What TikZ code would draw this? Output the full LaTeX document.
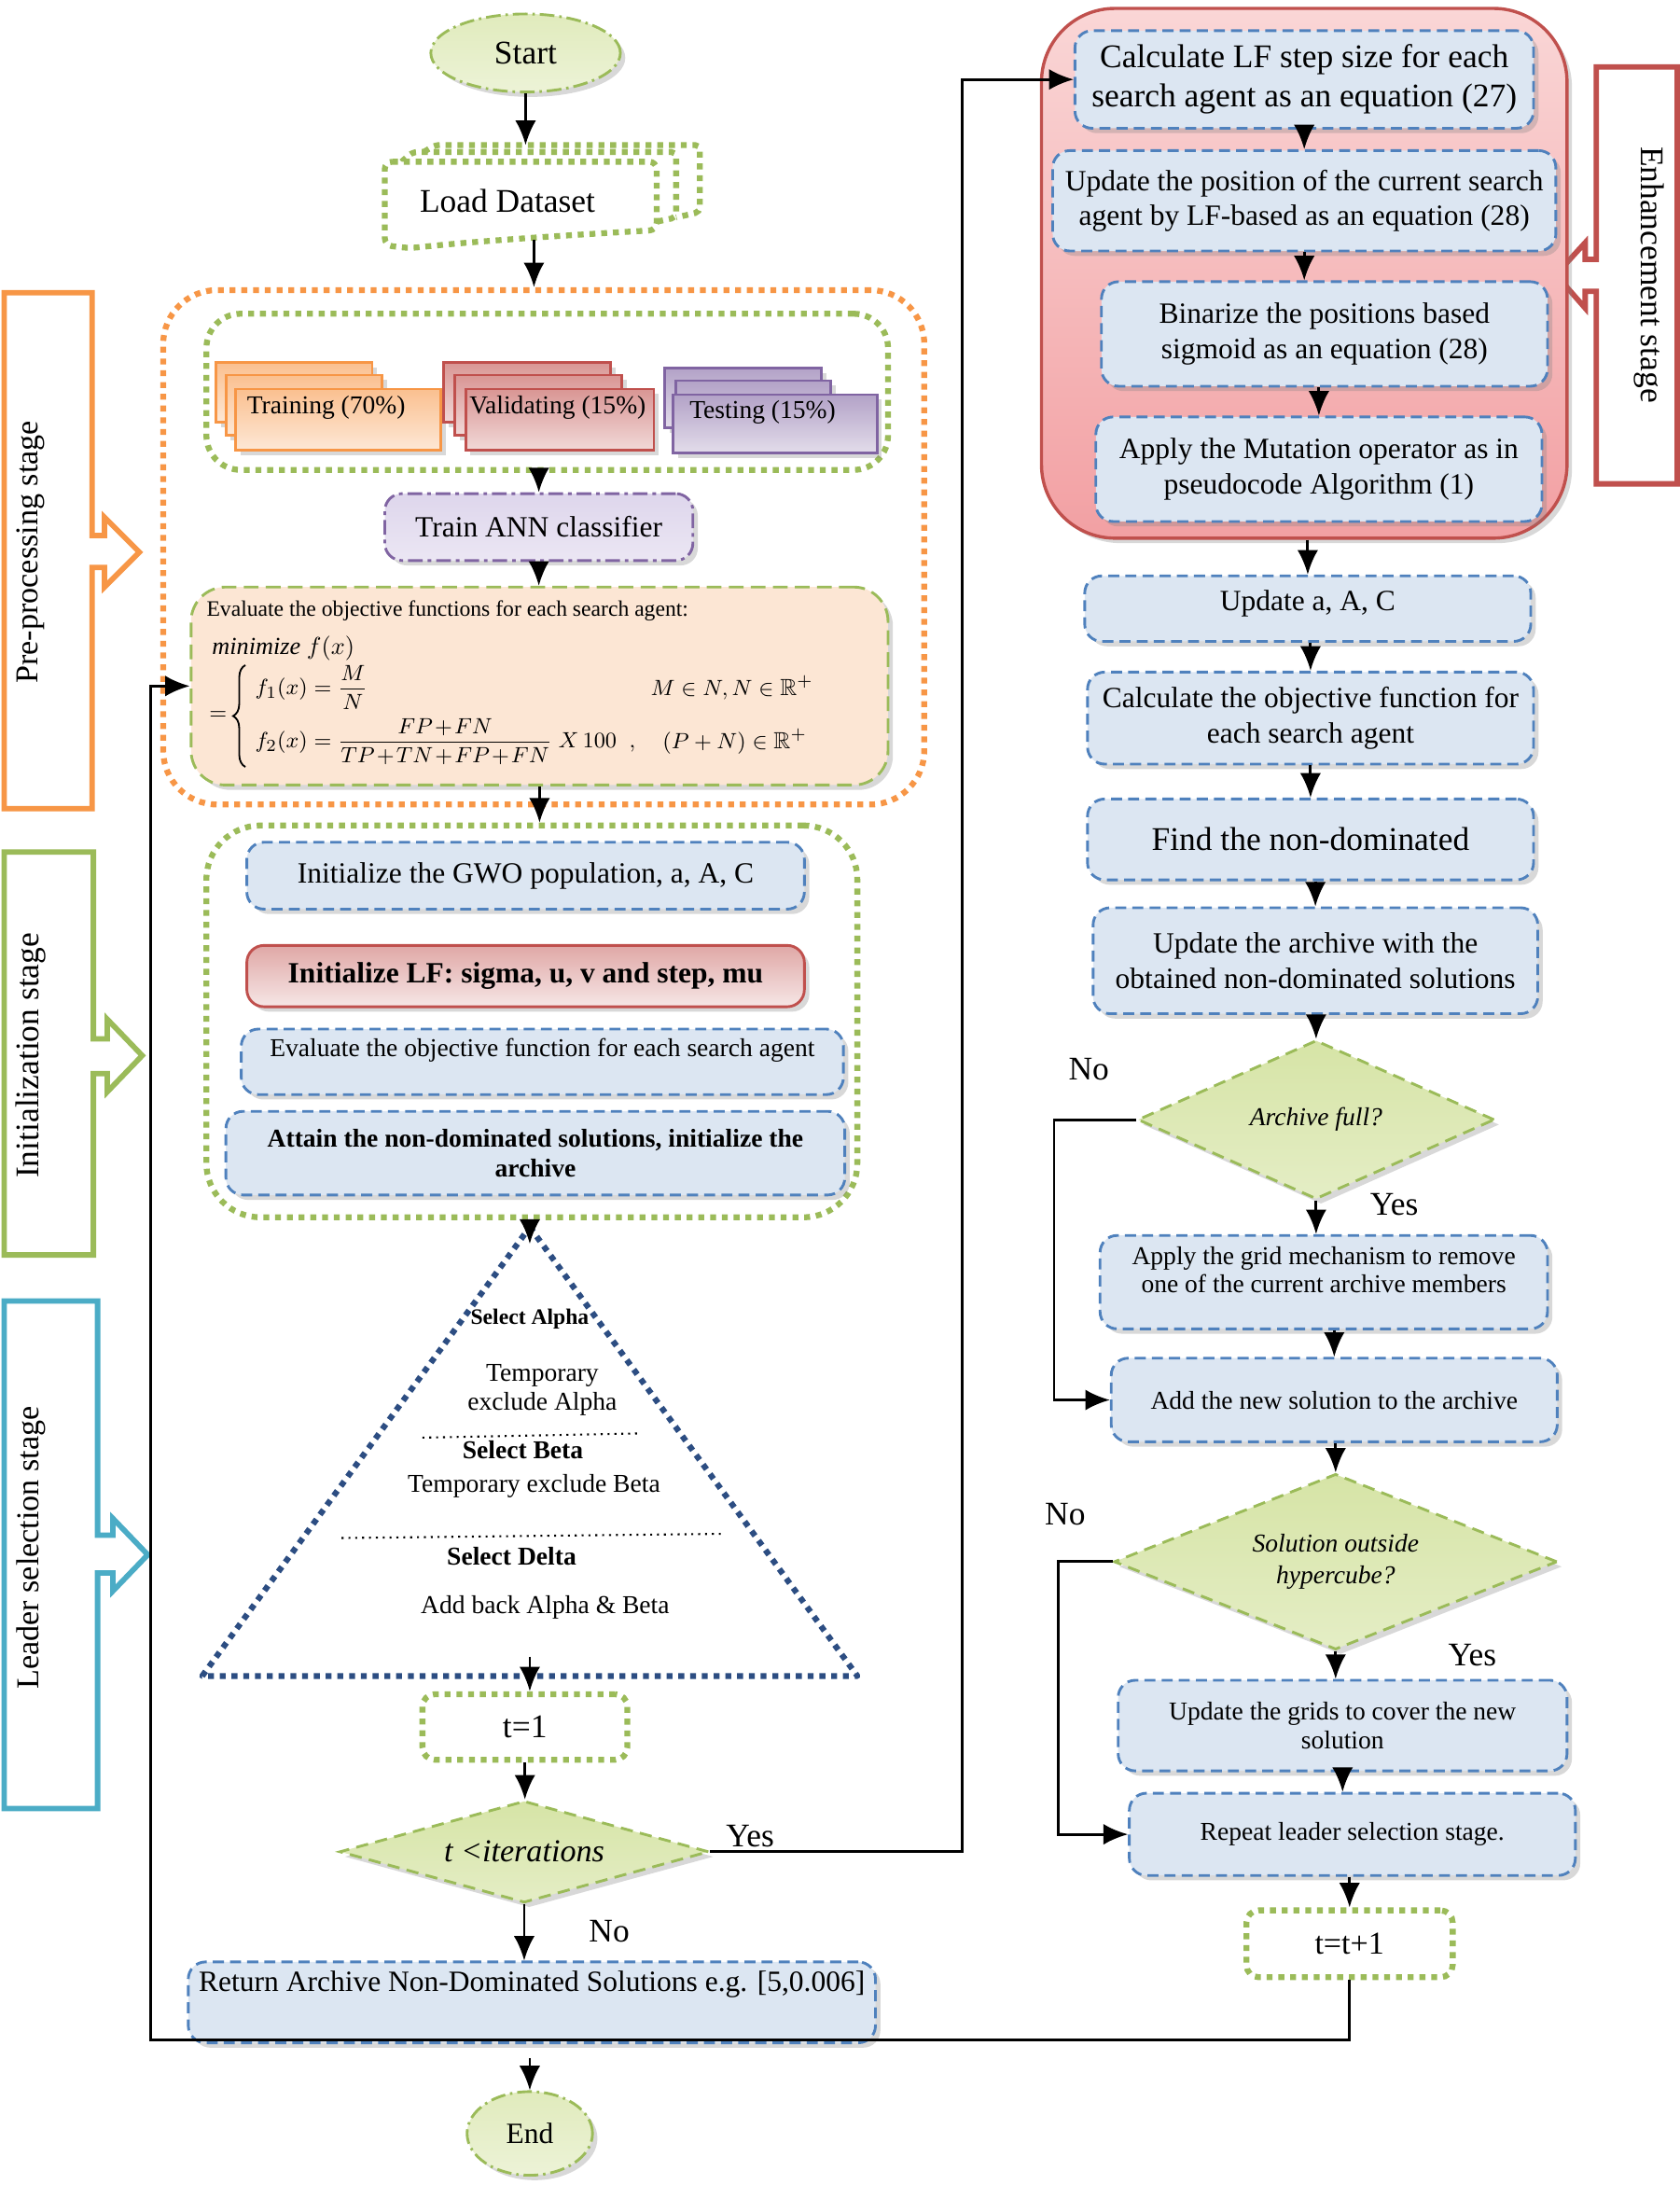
\documentclass[tikz,border=0pt]{standalone}
\usepackage{amsmath}
\usepackage{amssymb}
\usepackage{fontspec}
\setmainfont{Liberation Serif}
\usetikzlibrary{arrows.meta,shapes.geometric,shadows,calc,decorations.pathreplacing}

\definecolor{ggreen}{RGB}{155,187,89}
\definecolor{gfill}{RGB}{214,228,166}
\definecolor{bblue}{RGB}{79,129,189}
\definecolor{bfill}{RGB}{220,230,242}
\definecolor{oorange}{RGB}{247,150,70}
\definecolor{pfill}{RGB}{252,230,212}
\definecolor{rred}{RGB}{192,80,77}
\definecolor{pinktop}{RGB}{250,214,214}
\definecolor{pinkbot}{RGB}{242,160,163}
\definecolor{ppurple}{RGB}{128,100,162}
\definecolor{lfill}{RGB}{222,214,236}
\definecolor{nnavy}{RGB}{44,77,130}
\definecolor{cyanb}{RGB}{75,172,198}

\newcommand{\fsz}[2]{\fontsize{#1}{#2}\selectfont}

\begin{document}
\begin{tikzpicture}
				[x=0.02cm, y=-0.02cm, font=\fsz{12}{14},
				edge/.style={->, >={Latex[length=10pt,width=8.5pt]}, line width=1.1pt},
				shade/.style={drop shadow={shadow xshift=2pt, shadow yshift=-2pt, opacity=0.3}},
				box/.style={draw=bblue, line width=1.1pt, dash pattern=on 4.5pt off 2.5pt, fill=bfill, rounded corners=7pt, align=center, inner sep=1pt, shade},
				greenbox/.style={draw=ggreen, line width=2.4pt, dash pattern=on 2.4pt off 2.4pt, rounded corners=#1},
				greenbox/.default=6pt,
				decide/.style={diamond, draw=ggreen, line width=1.1pt, dash pattern=on 5pt off 3pt, top color=gfill, bottom color=gfill!65, inner sep=0pt, align=center, font=\fsz{10.5}{13}\itshape, shade},
				term/.style={ellipse, draw=ggreen, line width=1.1pt, dash pattern=on 6pt off 2pt on 1pt off 2pt, top color=gfill!75, bottom color=gfill!45, inner sep=0pt, shade},
				card/.style={draw=#1, line width=1.1pt, top color=#1!60, bottom color=#1!22, shade},
				cardtext/.style={font=\fsz{10.5}{12.5}},
				mathtext/.style={font=\fsz{9.5}{11}, inner sep=1pt},
				yesno/.style={font=\fsz{13.5}{16}},
				stage/.style={line width=2.2pt, line join=miter},
				stagetext/.style={font=\fsz{13}{15}}]
				\fill[white] (0,0) rectangle (1205,1567);
				\useasboundingbox (0,0) rectangle (1205,1567);
				
				% stage brackets
				\draw[stage, draw=oorange] (3,210) -- (66,210) -- (66,384) -- (75,384) -- (75,371) -- (100,396) -- (75,421) -- (75,407) -- (66,407) -- (66,580) -- (3,580) -- cycle;
				\draw[stage, draw=ggreen] (3,611) -- (67,611) -- (67,745) -- (77,745) -- (77,731) -- (102,757) -- (77,783) -- (77,770) -- (67,770) -- (67,900) -- (3,900) -- cycle;
				\draw[stage, draw=cyanb] (3,933) -- (70,933) -- (70,1101) -- (81,1101) -- (81,1089) -- (106,1115) -- (81,1141) -- (81,1128) -- (70,1128) -- (70,1297) -- (3,1297) -- cycle;
				\draw[stage, draw=rred] (1203,48) -- (1145,48) -- (1145,186) -- (1137,186) -- (1137,174) -- (1116,197) -- (1137,221) -- (1137,209) -- (1145,209) -- (1145,347) -- (1203,347) -- cycle;
				\node[stagetext, rotate=90] (pretxt) at (22,396) {Pre-processing stage};
				\node[stagetext, rotate=90, font=\fsz{13.5}{15}] (inittxt) at (22,757) {Initialization stage};
				\node[stagetext, rotate=90] (leadtxt) at (22,1110) {Leader selection stage};
				\node[stagetext, rotate=-90, font=\fsz{13.5}{15}] (enhtxt) at (1183,197) {Enhancement stage};
				
				% left column
				\node[term, minimum width=2.72cm, minimum height=1.12cm, font=\fsz{13.5}{16}] (start) at (377,38) {Start};
				\draw[greenbox=2pt] (304,109) -- (312,104) -- (502,104) -- (502,152) -- (485,156);
				\draw[greenbox=2pt] (288,116) -- (296,109) -- (485,109) -- (485,156) -- (471,159);
				\draw[greenbox=3pt, fill=white] (276,116) -- (471,116) -- (471,165) .. controls (420,168) and (350,172) .. (294,178) -- (276,176) -- cycle;
				\node[font=\fsz{13.5}{16}] (load) at (364,144) {Load Dataset};
				\coordinate (loadtop) at (385,104);
				\coordinate (loadbot) at (383,172);
				
				\node[draw=oorange, line width=2.4pt, dash pattern=on 2.4pt off 2.4pt, rounded corners=22pt, minimum width=10.92cm, minimum height=7.38cm] (preproc) at (390,392.5) {};
				\node[greenbox=14pt, minimum width=9.78cm, minimum height=2.24cm] (split) at (392.5,281) {};
				
				\node[card=oorange, minimum width=2.24cm, minimum height=0.86cm] (trainA) at (211,281.5) {};
				\node[card=oorange, minimum width=2.24cm, minimum height=0.86cm] (trainB) at (218,290.5) {};
				\node[card=oorange, minimum width=2.94cm, minimum height=0.88cm] (train) at (242.5,301) {};
				\node[cardtext] (traintxt) at (234,292) {Training (70\%)};
				\node[card=rred, minimum width=2.4cm, minimum height=0.86cm] (validA) at (378,281.5) {};
				\node[card=rred, minimum width=2.4cm, minimum height=0.86cm] (validB) at (386,290.5) {};
				\node[card=rred, minimum width=2.7cm, minimum height=0.88cm] (valid) at (401.5,301) {};
				\node[cardtext] (validtxt) at (400,292) {Validating (15\%)};
				\node[card=ppurple, minimum width=2.24cm, minimum height=0.86cm] (testA) at (533,285.5) {};
				\node[card=ppurple, minimum width=2.22cm, minimum height=0.86cm] (testB) at (540.5,294.5) {};
				\node[card=ppurple, minimum width=2.92cm, minimum height=0.84cm] (test) at (556,304) {};
				\node[cardtext] (testtxt) at (547,296) {Testing (15\%)};
				
				\node[draw=ppurple, line width=1.1pt, dash pattern=on 6pt off 2pt on 1.5pt off 2pt, rounded corners=7pt, top color=lfill, bottom color=lfill!60, minimum width=4.42cm, minimum height=0.96cm, font=\fsz{12}{14}, shade] (trainann) at (386.5,378) {Train ANN classifier};
				
				\node[draw=ggreen, line width=1.1pt, dash pattern=on 6pt off 3pt, rounded corners=14pt, fill=pfill, minimum width=10cm, minimum height=2.84cm, shade] (evalobj) at (387,492) {};
				\node[anchor=west, font=\fsz{9}{11}] (evalhead) at (142,438) {Evaluate the objective functions for each search agent:};
				\node[anchor=west, font=\fsz{10}{12}] (minf) at (146,465) {$\mathit{minimize}\ f(x)$};
				\node[mathtext, anchor=west] (eqsign) at (148,513) {$=$};
				\draw[decorate, decoration={brace, amplitude=5pt}, line width=0.7pt] (176,550) -- (176,477);
				\node[mathtext, anchor=west] (fone) at (181,493) {$f_1(x)=\dfrac{M}{N}$};
				\node[mathtext, anchor=west] (ftwo) at (181,532) {\medmuskip=1.5mu $f_2(x)=\dfrac{FP+FN}{TP+TN+FP+FN}\;X\,100\;\;,$};
				\node[mathtext] (cond1) at (525,493) {$M\in N,N\in\mathbb{R}^{+}$};
				\node[mathtext] (cond2) at (527,532) {$(P+N)\in\mathbb{R}^{+}$};
				
				\node[greenbox=22pt, minimum width=9.34cm, minimum height=5.62cm] (init) at (381.5,732.5) {};
				\node[box, minimum width=8cm, minimum height=0.96cm, font=\fsz{12}{14}] (gwo) at (377,628) {Initialize the GWO population, a, A, C};
				\node[draw=rred, line width=1.1pt, rounded corners=7pt, top color=rred!50, bottom color=rred!14, minimum width=8cm, minimum height=0.88cm, font=\fsz{12}{14}\bfseries, shade] (lfinit) at (377,700) {Initialize LF: sigma, u, v and step, mu};
				\node[box, minimum width=8.64cm, minimum height=0.94cm, font=\fsz{10.5}{12}, text depth=12pt] (evalinit) at (389,761.5) {Evaluate the objective function for each search agent};
				\node[box, minimum width=8.88cm, minimum height=1.2cm, font=\fsz{10.5}{12}\bfseries] (attain) at (384,827) {Attain the non-dominated solutions, initialize the\\archive};
				
				\coordinate (apex) at (380,880);
				\coordinate (tril) at (145,1202);
				\coordinate (trir) at (615,1202);
				\draw[draw=nnavy, line width=2.4pt, dash pattern=on 2.4pt off 2.4pt, line join=round] (apex) -- (trir) -- (tril) -- cycle;
				\node[font=\fsz{9}{11}\bfseries] (selalpha) at (380,946) {Select Alpha};
				\node[font=\fsz{10.5}{12}, align=center] (exalpha) at (389,997) {Temporary\\exclude Alpha};
				\draw[dotted, line width=0.8pt] (303,1031) -- (458,1028);
				\node[font=\fsz{10.5}{12}\bfseries] (selbeta) at (375,1040) {Select Beta};
				\node[font=\fsz{10.5}{12}] (exbeta) at (383,1066) {Temporary exclude Beta};
				\draw[dotted, line width=0.8pt] (245,1103) -- (517,1100);
				\node[font=\fsz{10.5}{12}\bfseries] (seldelta) at (367,1116) {Select Delta};
				\node[font=\fsz{10.5}{12}] (addback) at (391,1153) {Add back Alpha \& Beta};
				\coordinate (apexin) at (380,892);
				\coordinate (tribase) at (380,1188);
				
				\node[greenbox=5pt, minimum width=2.94cm, minimum height=0.94cm, font=\fsz{13.5}{16}] (tone) at (376.5,1238.5) {t=1};
				\node[decide, aspect=3.63, minimum width=5.3cm, minimum height=1.46cm, font=\fsz{13}{15}\itshape] (iter) at (376,1328) {t <iterations};
				\node[box, minimum width=9.86cm, minimum height=1.16cm, font=\fsz{12}{14}, text depth=17pt] (ret) at (381.5,1436) {Return Archive Non-Dominated Solutions e.g. [5,0.006]};
				\node[term, minimum width=1.8cm, minimum height=1.2cm, font=\fsz{12}{14}] (endn) at (380,1530) {End};
				\node[yesno] (yesiter) at (538,1317) {Yes};
				\node[yesno] (noiter) at (437,1385) {No};
				
				% right column
				\node[draw=rred, line width=1.3pt, rounded corners=30pt, top color=pinktop, bottom color=pinkbot, minimum width=7.54cm, minimum height=7.6cm, shade] (enh) at (935.5,196) {};
				\node[box, minimum width=6.58cm, minimum height=1.4cm, font=\fsz{13.5}{16}] (lfstep) at (935.5,57) {Calculate LF step size for each\\search agent as an equation (27)};
				\node[box, minimum width=7.22cm, minimum height=1.44cm, font=\fsz{12}{14.2}] (lfpos) at (935.5,144) {Update the position of the current search\\agent by LF-based as an equation (28)};
				\node[box, minimum width=6.4cm, minimum height=1.5cm, font=\fsz{12}{14.2}] (binar) at (950,239.5) {Binarize the positions based\\sigmoid as an equation (28)};
				\node[box, minimum width=6.4cm, minimum height=1.5cm, font=\fsz{12}{14.2}] (mutat) at (946,336.5) {Apply the Mutation operator as in\\pseudocode Algorithm (1)};
				
				\node[box, minimum width=6.4cm, minimum height=0.94cm, font=\fsz{12}{14}, text depth=7pt] (upd) at (938,436.5) {Update a, A, C};
				\node[box, minimum width=6.4cm, minimum height=1.32cm, font=\fsz{12}{14.2}] (calcobj) at (940,515) {Calculate the objective function for\\each search agent};
				\node[box, minimum width=6.4cm, minimum height=1.16cm, font=\fsz{13.5}{16}] (findnd) at (940,602) {Find the non-dominated};
				\node[box, minimum width=6.38cm, minimum height=1.52cm, font=\fsz{12}{14.2}] (updarch) at (943.5,689) {Update the archive with the\\obtained non-dominated solutions};
				\node[decide, aspect=2.25, minimum width=5.12cm, minimum height=2.28cm] (full) at (944,803) {Archive full?};
				\node[box, minimum width=6.42cm, minimum height=1.34cm, font=\fsz{10.5}{11.5}, text depth=10pt] (grid) at (949.5,919.5) {Apply the grid mechanism to remove\\one of the current archive members};
				\node[box, minimum width=6.4cm, minimum height=1.2cm, font=\fsz{10.5}{12}] (addsol) at (957,1004) {Add the new solution to the archive};
				\node[decide, aspect=2.52, minimum width=6.36cm, minimum height=2.52cm] (outside) at (958,1120) {Solution outside\\hypercube?};
				\node[box, minimum width=6.44cm, minimum height=1.3cm, font=\fsz{10.5}{11.5}] (grids) at (963,1237.5) {Update the grids to cover the new\\solution};
				\node[box, minimum width=6.4cm, minimum height=1.18cm, font=\fsz{10.5}{12}] (repeatsel) at (970,1315.5) {Repeat leader selection stage.};
				\node[greenbox=5pt, minimum width=2.96cm, minimum height=0.96cm, font=\fsz{13}{15}] (tinc) at (968,1394) {t=t+1};
				\node[yesno] (nofull) at (781,767) {No};
				\node[yesno] (yesfull) at (1000,864) {Yes};
				\node[yesno] (nooutside) at (764,1086) {No};
				\node[yesno] (yesoutside) at (1056,1187) {Yes};
				\coordinate (loopc) at (108,1463);
				
				% connectors
				\draw[edge] (start.south) -- (start.south |- loadtop);
				\draw[edge] (loadbot) -- (loadbot |- preproc.north);
				\draw[edge] (trainann.north |- split.south) -- (trainann.north);
				\draw[edge] (trainann.south) -- (trainann.south |- evalobj.north);
				\draw[edge] (evalobj.south) -- (evalobj.south |- init.north);
				\draw[edge] (apexin |- init.south) -- (apexin);
				\draw[edge] (tribase) -- (tribase |- tone.north);
				\draw[edge] (tone.south) -- (tone.south |- iter.north);
				\draw[edge] (iter.south) -- (iter.south |- ret.north);
				\draw[edge] ($(endn.north |- ret.south)+(0,10)$) -- (endn.north);
				\draw[edge] (iter.east) -- ++(181,0) |- (lfstep.west);
				\draw[edge] (lfstep.south) -- (lfstep.south |- lfpos.north);
				\draw[edge] (lfpos.south) -- (lfpos.south |- binar.north);
				\draw[edge] (mutat.north |- binar.south) -- (mutat.north);
				\draw[edge] (upd.north |- enh.south) -- (upd.north);
				\draw[edge] (calcobj.north |- upd.south) -- (calcobj.north);
				\draw[edge] (calcobj.south) -- (calcobj.south |- findnd.north);
				\draw[edge] (updarch.north |- findnd.south) -- (updarch.north);
				\draw[edge] (full.north |- updarch.south) -- (full.north);
				\draw[edge] (full.south) -- (full.south |- grid.north);
				\draw[edge] (addsol.north |- grid.south) -- (addsol.north);
				\draw[edge] (outside.north |- addsol.south) -- (outside.north);
				\draw[edge] (outside.south) -- (outside.south |- grids.north);
				\draw[edge] (grids.south) -- (grids.south |- repeatsel.north);
				\draw[edge] (tinc.north |- repeatsel.south) -- (tinc.north);
				\draw[edge] (full.west) -- ++(-59,0) |- (addsol.west);
				\draw[edge] (outside.west) -- ++(-39,0) |- (repeatsel.west);
				\draw[edge] (tinc.south) |- (loopc) |- (evalobj.west);
\end{tikzpicture}
\end{document}
